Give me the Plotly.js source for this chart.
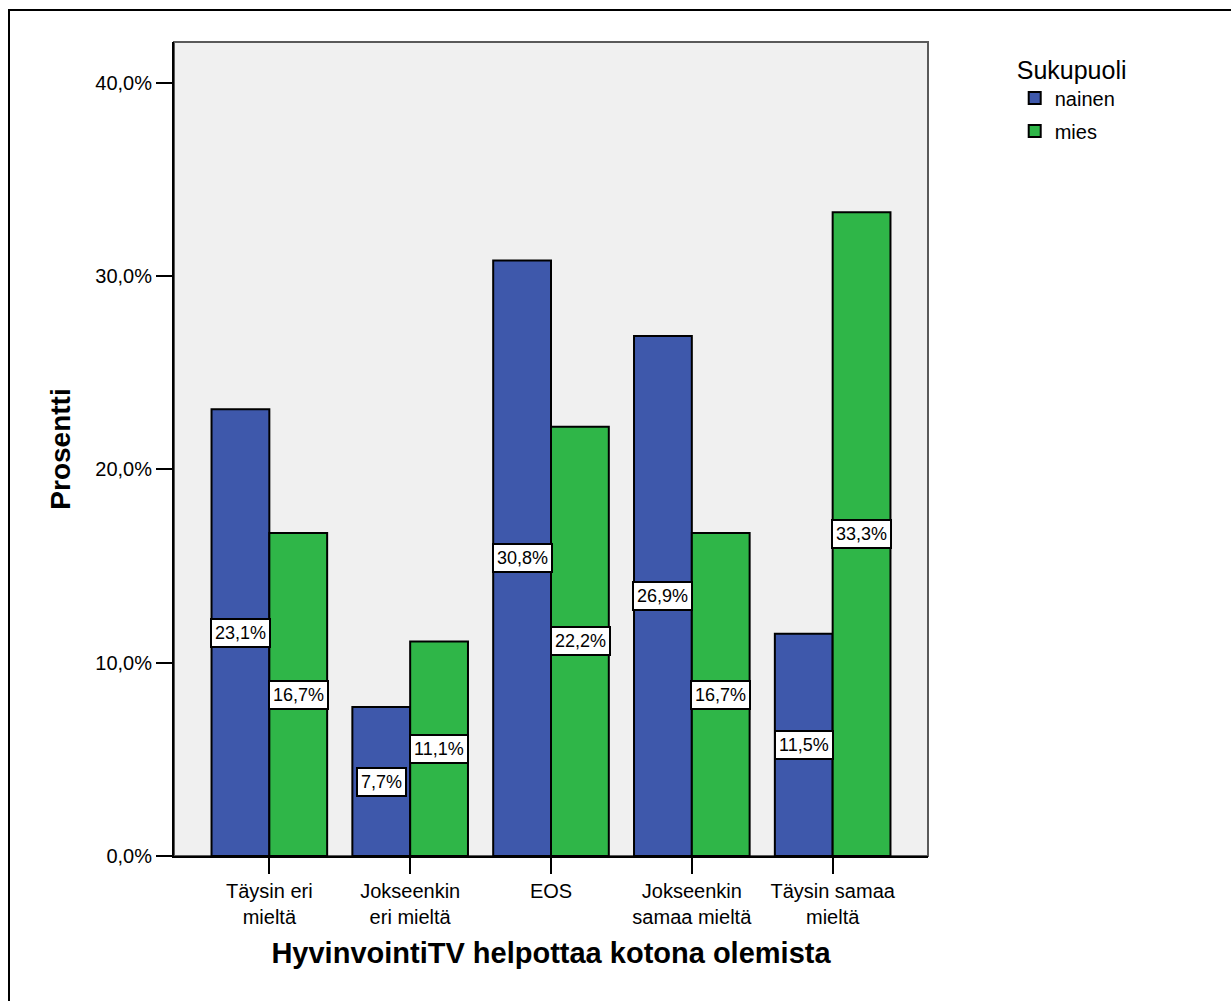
<!DOCTYPE html>
<html>
<head>
<meta charset="utf-8">
<script src="https://cdn.plot.ly/plotly-3.0.1.min.js"></script>
<style>
  html, body { margin: 0; padding: 0; background: #fff; overflow: hidden; }
  #wrap { position: relative; width: 1231px; height: 1001px; }
  #frame { position: absolute; left: 8px; top: 9px; width: 1300px; height: 1100px;
           border-left: 2px solid #000; border-top: 2px solid #000; pointer-events: none; z-index: 5; }
  #chart { position: absolute; left: 0; top: 0; width: 1231px; height: 1001px; }
</style>
</head>
<body>
<div id="wrap">
  <div id="chart"></div>
  <div id="frame"></div>
</div>
<script>
const categories = ["Täysin eri<br>mieltä", "Jokseenkin<br>eri mieltä", "EOS", "Jokseenkin<br>samaa mieltä", "Täysin samaa<br>mieltä"];
const nainen = [23.1, 7.7, 30.8, 26.9, 11.5];
const mies = [16.7, 11.1, 22.2, 16.7, 33.3];
const seriesNames = ["nainen", "mies"];
const yTicks = [0, 10, 20, 30, 40];
const yTickText = ["0,0%", "10,0%", "20,0%", "30,0%", "40,0%"];

const FONT = "Liberation Sans, Arial, sans-serif";
const blue = "rgb(62,88,171)";
const green = "rgb(47,182,72)";

const fmt = v => v.toFixed(1).replace('.', ',') + '%';

const traces = [
  { type: 'bar', name: seriesNames[0], legendgroup: 'g1', x: categories, y: nainen,
    marker: { color: blue, line: { color: '#000', width: 2 } }, hoverinfo: 'skip' },
  { type: 'bar', name: seriesNames[1], legendgroup: 'g2', x: categories, y: mies,
    marker: { color: green, line: { color: '#000', width: 2 } }, hoverinfo: 'skip' }
];

const shift = 29;
const annotations = [];
[nainen, mies].forEach((arr, si) => {
  arr.forEach((v, i) => {
    annotations.push({
      x: categories[i], y: v / 2, xref: 'x', yref: 'y',
      xshift: si === 0 ? -shift : shift,
      text: fmt(v), showarrow: false,
      font: { family: FONT, size: 18, color: '#000' },
      bgcolor: '#fff', bordercolor: '#000', borderwidth: 2, borderpad: 3
    });
  });
});

const layout = {
  width: 1231, height: 1001,
  margin: { l: 174, r: 303, t: 42, b: 145, pad: 0 },
  paper_bgcolor: '#fff',
  plot_bgcolor: 'rgb(240,240,240)',
  font: { family: FONT, size: 20, color: '#000' },
  barmode: 'group',
  bargap: 0.179,
  bargroupgap: 0,
  showlegend: true,
  legend: {
    x: 1.115, y: 0.995, xanchor: 'left', yanchor: 'top',
    traceorder: 'grouped', tracegroupgap: 4,
    title: { text: 'Sukupuoli', font: { family: FONT, size: 25, color: '#000' } },
    font: { family: FONT, size: 20, color: '#000' },
    bgcolor: 'rgba(0,0,0,0)', itemwidth: 30
  },
  xaxis: {
    type: 'category',
    range: [-0.677, 4.677],
    showgrid: false, zeroline: false,
    showline: true, linecolor: '#000', linewidth: 2,
    ticks: 'outside', ticklen: 16, tickwidth: 2, tickcolor: '#000',
    tickfont: { family: FONT, size: 20, color: '#000' },
    title: { text: 'HyvinvointiTV helpottaa kotona olemista', standoff: 16,
             font: { family: FONT, size: 29, color: '#000', weight: 'bold' } }
  },
  yaxis: {
    range: [0, 42.1],
    tickvals: yTicks,
    ticktext: yTickText,
    showgrid: false, zeroline: false,
    showline: true, linecolor: '#000', linewidth: 2,
    ticks: 'outside', ticklen: 16, tickwidth: 2, tickcolor: '#000',
    tickfont: { family: FONT, size: 20, color: '#000' },
    title: { text: 'Prosentti', standoff: 16,
             font: { family: FONT, size: 28, color: '#000', weight: 'bold' } }
  },
  shapes: [
    { type: 'rect', xref: 'paper', yref: 'paper', x0: 0, x1: 1, y0: 0, y1: 1,
      line: { color: 'rgb(90,90,90)', width: 2 }, layer: 'below' }
  ],
  annotations: annotations
};

Plotly.newPlot('chart', traces, layout, { staticPlot: true, displayModeBar: false });
</script>
</body>
</html>
